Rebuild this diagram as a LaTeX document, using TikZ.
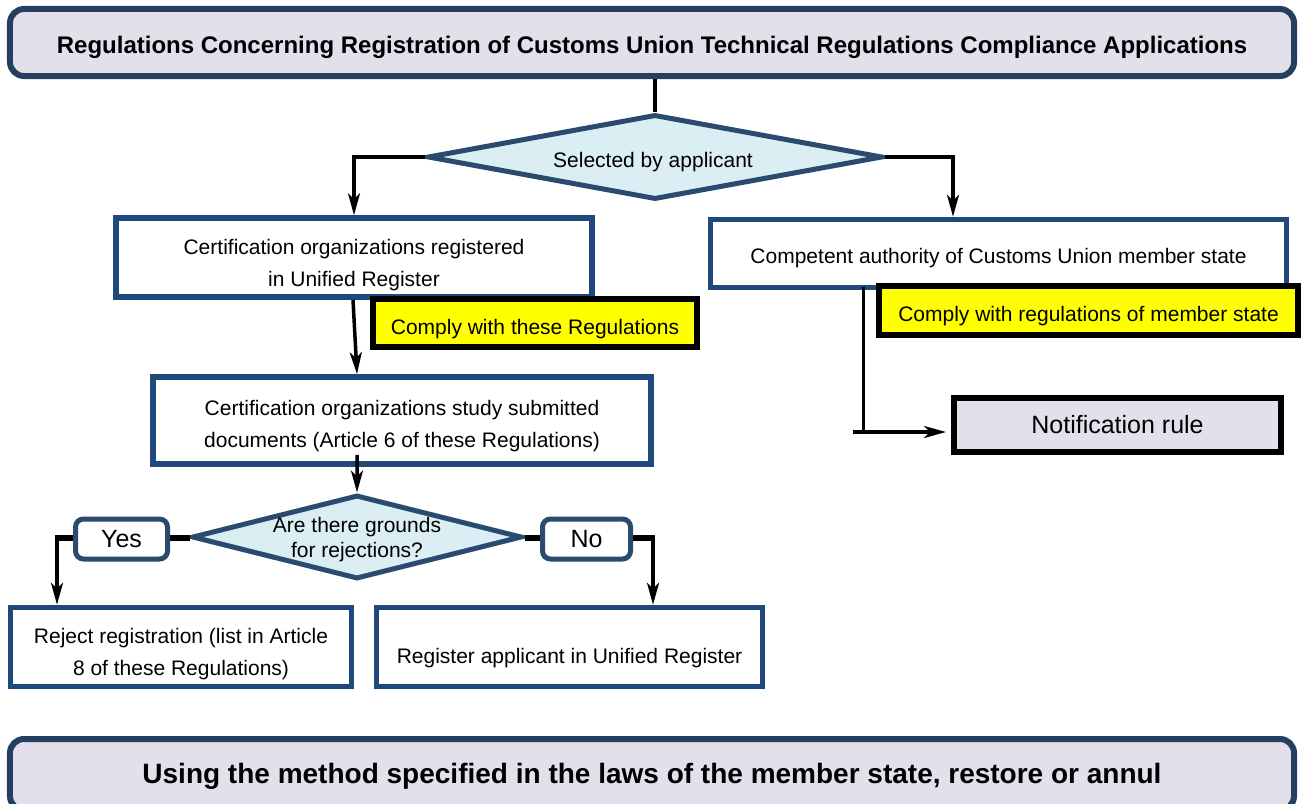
\documentclass[tikz,border=0pt]{standalone}
\usepackage{fontspec}
\setmainfont{Liberation Sans}
\usetikzlibrary{arrows.meta,shapes.geometric}
\definecolor{navy}{RGB}{36,63,96}
\definecolor{boxblue}{RGB}{31,73,125}
\definecolor{diablue}{RGB}{43,74,112}
\definecolor{diafill}{RGB}{218,238,243}
\definecolor{lavender}{RGB}{227,223,235}
\definecolor{hiyellow}{RGB}{255,255,0}
\begin{document}
\begin{tikzpicture}[x=1bp,y=-1bp,
  txt/.style={font=\fontsize{21bp}{32bp}\selectfont, align=center, text=black},
  lift/.style 2 args={text height=#1bp, text depth=#2bp},
  banner/.style={draw=navy, line width=6bp, fill=lavender, rounded corners=14bp, inner sep=0pt, align=center},
  stepbox/.style={txt, draw=boxblue, line width=5.5bp, fill=white, inner sep=0pt},
  notebox/.style={txt, draw=black, line width=6bp, fill=hiyellow, inner sep=0pt},
  rulebox/.style={draw=black, line width=6bp, fill=lavender, inner sep=0pt, font=\fontsize{25bp}{30bp}\selectfont},
  choice/.style={shape=diamond, draw=diablue, line width=5bp, fill=diafill, inner sep=0pt},
  answer/.style={draw=diablue, line width=5bp, fill=white, rounded corners=8bp, inner sep=0pt, font=\fontsize{25bp}{30bp}\selectfont},
  flow/.style={draw=black, line width=3.5bp, -{Stealth[length=22bp,width=12bp,inset=6bp]}},
  link/.style={draw=black, line width=3.5bp},
  stub/.style={draw=black, line width=6bp},
]
\useasboundingbox (0,0) rectangle (1301,803);

% headline and closing banner
\node[banner, minimum width=1284bp, minimum height=67bp, lift={26.2}{5},
      font=\bfseries\fontsize{24bp}{28bp}\selectfont] (title) at (652,42.5)
  {Regulations Concerning Registration of Customs Union Technical Regulations Compliance Applications};
\node[banner, minimum width=1284bp, minimum height=71bp, lift={22}{5},
      font=\bfseries\fontsize{28bp}{32bp}\selectfont] (method) at (652,774.5)
  {Using the method specified in the laws of the member state, restore or annul};

% first decision
\node[choice, minimum width=455bp, minimum height=85bp] (sel) at (655,157) {};
\node[txt] (selq) at (653,162) {Selected by applicant};

% left branch
\node[stepbox, minimum width=476bp, minimum height=79bp, lift={62.7}{5}] (cert) at (354,257.5)
  {Certification organizations registered\\in Unified Register};
\node[notebox, minimum width=324bp, minimum height=48bp, lift={27.7}{5}] (comply) at (535,323)
  {Comply with these Regulations};
\node[stepbox, minimum width=498bp, minimum height=87bp, lift={58.7}{5}] (study) at (402,420.5)
  {Certification organizations study submitted\\documents (Article 6 of these Regulations)};

% second decision
\node[choice, minimum width=330bp, minimum height=84bp] (grounds) at (357,537) {};
\node[txt, font=\fontsize{21bp}{25bp}\selectfont] (groundsq) at (357,539.5) {Are there grounds\\for rejections?};
\node[answer, minimum width=92bp, minimum height=40bp, lift={22.5}{5}] (yes) at (121.5,539) {Yes};
\node[answer, minimum width=88bp, minimum height=40bp, lift={22.5}{5}] (no) at (586.5,539) {No};

\node[stepbox, minimum width=341bp, minimum height=79bp, lift={61.7}{5}] (reject) at (181,647)
  {Reject registration (list in Article\\8 of these Regulations)};
\node[stepbox, minimum width=386bp, minimum height=79bp, lift={37.7}{5}] (register) at (569.5,647)
  {Register applicant in Unified Register};

% right branch
\node[stepbox, minimum width=576bp, minimum height=68bp, lift={24.7}{5}] (auth) at (998.5,253.5)
  {Competent authority of Customs Union member state};
\node[notebox, minimum width=419bp, minimum height=49bp, lift={26.7}{5}] (complyms) at (1088.5,310.5)
  {Comply with regulations of member state};
\node[rulebox, minimum width=327bp, minimum height=54bp, lift={22.5}{5}] (notif) at (1117.5,425)
  {Notification rule};

% connectors
\draw[link] (title.south -| sel.north) -- (sel.north);
\draw[flow] (sel.west) -| (cert.north);
\draw[flow] (sel.east) -| ([xshift=-45.5bp]auth.north);
\draw[flow] ([xshift=-1bp]cert.south) -- ([xshift=-45bp]study.north);
\draw[flow] ([xshift=-45bp,yshift=12bp]study.south) -- (grounds.north);

\coordinate (yesturn) at (57,538);
\coordinate (noturn) at (653,538);
\draw[stub] (yes.east |- yesturn) -- (grounds.west |- yesturn);
\draw[stub] (yes.west |- yesturn) -- ([xshift=-1.75bp]yesturn);
\draw[flow] ([yshift=3bp]yesturn) -- (yesturn |- reject.north);
\draw[stub] (no.west |- noturn) -- (grounds.east |- noturn);
\draw[stub] (no.east |- noturn) -- ([xshift=1.75bp]noturn);
\draw[flow] ([yshift=3bp]noturn) -- (noturn |- register.north);

\coordinate (notifturn) at (863.5,432);
\coordinate (notifstub) at (853,432);
\draw[link] ([yshift=3bp]auth.south -| notifturn) -- (notifturn);
\draw[flow, shorten >=5bp] (notifstub) -- (notif.west |- notifstub);
\end{tikzpicture}
\end{document}
